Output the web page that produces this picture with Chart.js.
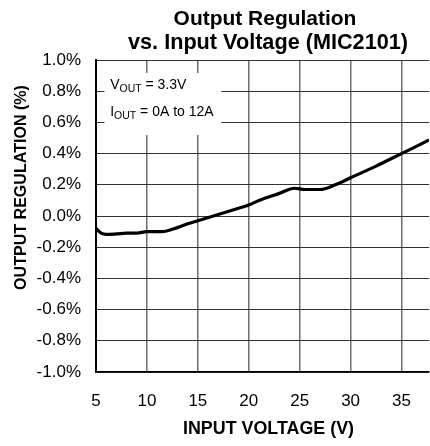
<!DOCTYPE html>
<html><head><meta charset="utf-8">
<script src="https://cdn.jsdelivr.net/npm/chart.js@4/dist/chart.umd.min.js"></script>
<style>html,body{margin:0;padding:0;background:#fff;overflow:hidden}#wrap{width:430px;height:446px}</style>
</head><body><div id="wrap"><canvas id="c" width="430" height="446"></canvas></div>
<script>
const voltages   = [5, 5.5, 6, 7, 8, 9, 10, 11.5, 12.5, 14, 15, 17, 19, 20, 21, 23, 24.5, 25.5, 27, 28.5, 30, 32.5, 35, 37.7];
const regulation = [-0.08, -0.11, -0.118, -0.115, -0.11, -0.11, -0.10, -0.10, -0.085, -0.05, -0.03, 0.01, 0.05, 0.07, 0.10, 0.145, 0.178, 0.17, 0.17, 0.20, 0.245, 0.32, 0.40, 0.487];
const xTicks = [5, 10, 15, 20, 25, 30, 35];
const yTicks = [-1.0, -0.8, -0.6, -0.4, -0.2, 0.0, 0.2, 0.4, 0.6, 0.8, 1.0];
const titleLines = ['Output Regulation', 'vs. Input Voltage (MIC2101)'];
const xTitle = 'INPUT VOLTAGE (V)';
const yTitle = 'OUTPUT REGULATION (%)';
const noteLines = [['V', 'OUT', ' = 3.3V'], ['I', 'OUT', ' = 0A to 12A']];

const FONT = '"Liberation Sans", Arial, sans-serif';

function fitFont(ctx, text, weight, target, maxSize) {
  ctx.font = weight + ' 20px ' + FONT;
  const w = ctx.measureText(text).width;
  let size = 20 * target / w;
  if (maxSize) size = Math.min(size, maxSize);
  ctx.font = weight + ' ' + size.toFixed(2) + 'px ' + FONT;
}

const decor = {
  id: 'decor',
  beforeDatasetsDraw(chart) {
    const {ctx, scales: {x, y}} = chart;
    ctx.save();
    const bx0 = x.getPixelForValue(5.83), bx1 = x.getPixelForValue(17.3);
    const by0 = y.getPixelForValue(0.917), by1 = y.getPixelForValue(0.519);
    ctx.fillStyle = '#fff';
    ctx.fillRect(bx0, by0, bx1 - bx0, by1 - by0);
    ctx.fillStyle = '#000';
    ctx.textBaseline = 'alphabetic';
    ctx.textAlign = 'left';
    const noteY = [0.811, 0.641];
    noteLines.forEach((parts, i) => {
      let px = x.getPixelForValue(6.39);
      const py = y.getPixelForValue(noteY[i]);
      ctx.font = '14px ' + FONT;
      ctx.fillText(parts[0], px, py); px += ctx.measureText(parts[0]).width;
      ctx.font = '10.5px ' + FONT;
      ctx.fillText(parts[1], px, py + 3); px += ctx.measureText(parts[1]).width;
      ctx.font = '14px ' + FONT;
      ctx.fillText(parts[2], px, py);
    });
    ctx.restore();
  },
  afterDraw(chart) {
    const {ctx} = chart;
    ctx.save();
    ctx.fillStyle = '#000';
    ctx.textAlign = 'center';
    ctx.textBaseline = 'alphabetic';
    fitFont(ctx, titleLines[0], 'bold', 183);
    ctx.fillText(titleLines[0], 265, 25);
    fitFont(ctx, titleLines[1], 'bold', 280);
    ctx.fillText(titleLines[1], 268, 48.5);
    ctx.textBaseline = 'middle';
    fitFont(ctx, xTitle, 'bold', 171);
    ctx.fillText(xTitle, 268.5, 429);
    ctx.save();
    ctx.translate(22, 187.5);
    ctx.rotate(-Math.PI / 2);
    fitFont(ctx, yTitle, 'bold', 205);
    ctx.fillText(yTitle, 0, 0);
    ctx.restore();
    ctx.restore();
  }
};

new Chart(document.getElementById('c'), {
  type: 'line',
  data: {
    datasets: [{
      data: voltages.map((v, i) => ({x: v, y: regulation[i]})),
      borderColor: '#000',
      borderWidth: 3.2,
      pointRadius: 0,
      cubicInterpolationMode: 'monotone',
      fill: false
    }]
  },
  options: {
    responsive: false,
    animation: false,
    devicePixelRatio: 1,
    layout: {padding: {top: 60, right: 0, bottom: 0, left: 0}},
    plugins: {legend: {display: false}, tooltip: {enabled: false}, title: {display: false}},
    scales: {
      x: {
        type: 'linear', min: 5, max: 37.7,
        afterFit(s) { s.height = 74; },
        afterBuildTicks(s) { s.ticks = xTicks.map(v => ({value: v})); },
        grid: {color: '#6e6e6e', lineWidth: 1.5, drawTicks: false},
        border: {display: true, color: '#000', width: 1.5},
        ticks: {color: '#000', font: {family: FONT, size: 17}, padding: 19, maxRotation: 0, callback: v => String(v)}
      },
      y: {
        type: 'linear', min: -1.0, max: 1.0,
        afterFit(s) { s.width = 96; },
        afterBuildTicks(s) { s.ticks = yTicks.map(v => ({value: v})); },
        grid: {color: '#333', lineWidth: 1, drawTicks: false},
        border: {display: true, color: '#000', width: 2},
        ticks: {color: '#000', font: {family: FONT, size: 17}, padding: 15, callback: v => v.toFixed(1) + '%'}
      }
    }
  },
  plugins: [decor]
});
</script>
</body></html>
